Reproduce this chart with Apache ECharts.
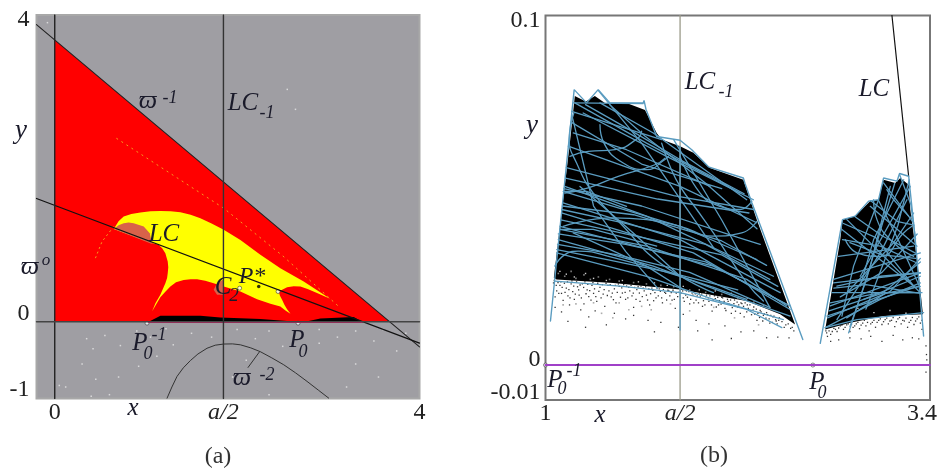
<!DOCTYPE html>
<html><head><meta charset="utf-8">
<style>html,body{margin:0;padding:0;background:#fff}#c{width:940px;height:468px}</style>
<script src="https://cdn.jsdelivr.net/npm/echarts@6/dist/echarts.min.js"></script>
</head><body><div id="c"></div>
<script>
// ---------- panel (a) data ----------
const aHalfA = 1.85, aHalfB = 1.84;
const xTicksA = [0, aHalfA, 4], xLabelsA = ['0', '{i|a/2}', '4'];
const yTicksA = [-1, 0, 4], yLabelsA = ['{u9|-1}', '{u8|0}', '{d5|4}'];
const xTicksB = [1, aHalfB, 3.4], xLabelsB = ['1', '{i|a/2}', '{r|3.4}'];
const yTicksB = [-0.01, 0, 0.1], yLabelsB = ['{u7|-0.01}', '{u5|0}', '{d5|0.1}'];

const redTriangle = [[0,3.674],[3.673,0],[0,0]];
const yellowRegion = [[.647,1.21],[.7,1.31],[.756,1.372],[.84,1.405],[.939,1.425],[1.05,1.44],[1.158,1.446],[1.27,1.442],[1.378,1.429],[1.49,1.395],[1.597,1.351],[1.72,1.28],[1.853,1.199],[2.036,1.068],[2.255,.873],[2.474,.699],[2.73,.526],[3.02,.3],[2.876,.374],[2.78,.425],[2.694,.46],[2.62,.465],[2.548,.452],[2.456,.395],[2.47,.34],[2.493,.287],[2.52,.22],[2.548,.165],[2.585,.104],[2.53,.148],[2.474,.2],[2.365,.235],[2.219,.295],[2.036,.395],[1.853,.46],[1.743,.504],[1.65,.535],[1.561,.556],[1.49,.556],[1.414,.545],[1.33,.515],[1.268,.46],[1.21,.39],[1.158,.321],[1.067,.135],[1.104,.243],[1.158,.352],[1.213,.504],[1.232,.57],[1.239,.634],[1.245,.71],[1.239,.786],[1.213,.895],[1.18,.955],[1.14,1.003],[1.049,1.03]];
const patchLC = [[.647,1.21],[.7,1.26],[.756,1.286],[.81,1.295],[.866,1.286],[.976,1.242],[1.042,1.155],[1.067,1.015]];
const patchC2 = [[1.846,.547],[1.78,.504],[1.743,.417],[1.78,.352],[1.846,.352]];
const blackStrip = [[1.031,0],[1.159,.078],[1.597,.078],[1.816,.056],[2.255,.035],[2.547,.009],[2.785,.009],[2.913,.043],[3.278,.061],[3.37,0]];
const pinkSeg = [[1.03,-.004],[3.37,-.004]];
const orangeTail = [[.446,.83],[.519,1.047],[.647,1.242]];
const orangeCurve = [[.676,2.393],[1.853,1.481],[2.5,.86],[3.114,.2]];
const omegaM1 = [[-.2,3.874],[4,-.326]];
const omega0 = [[-.2,1.608],[4,-.278]];
const omegaM2 = [[1.232,-.995],[1.285,-.85],[1.341,-.712],[1.41,-.6],[1.488,-.505],[1.57,-.42],[1.67,-.345],[1.76,-.305],[1.853,-.29],[1.95,-.288],[2.036,-.3],[2.15,-.34],[2.255,-.39],[2.38,-.47],[2.511,-.56],[2.64,-.665],[2.767,-.777],[2.89,-.89],[3.004,-.995]];
const arrowA = [[2.12,-.595],[2.248,-.387]];
const xZeroA = [[0,-1],[0,4]];
const yZeroA = [[-.2,0],[4,0]];
const lcM1A = [[aHalfA,-1],[aHalfA,4]];
const openPtsA = [[2.668,-.017],[1.012,-.017],[2.028,.439],[2.449,.395]];
const pStar = [[2.237,.46]];
const whiteDotsA = [[-.08,3.9],[2.55,3.03],[2.64,2.77],[.35,-.22],[.42,-.35],[.55,-.18],[.72,-.31],[.9,-.12],[1.05,-.2],[1.22,-.09],[.3,-.55],[.12,-.85],[.05,-.83],[.4,-.97],[.6,-.95],[.45,-.75],[.7,-.72],[.92,-.58],[1.3,-.3],[1.12,-.45],[1.5,-.15],[1.72,-.2],[2,-.1],[2.2,-.22],[2.35,-.12],[2.5,-.32],[2.9,-.1],[3.1,-.2],[3.3,-.12],[3.5,-.25],[3.75,-.38],[3.6,-.1],[2.9,-.28],[2.1,-.5],[1.95,-.72],[2.35,-.95],[3.3,-.55],[3.55,-.72],[3.85,-.15],[3.2,-.85]];

// ---------- panel (b) data ----------
const blackLeft = [[1.183,.077],[1.252,.0754],[1.308,.077],[1.371,.075],[1.506,.075],[1.621,.073],[1.694,.0664],[1.725,.0645],[1.84,.0626],[1.923,.0607],[2.027,.0564],[2.235,.053],[2.319,.0416],[2.558,.0116],[2.465,.0145],[2.256,.0183],[1.84,.0216],[1.423,.0235],[1.069,.0245],[1.052,.025],[1.1,.0435],[1.152,.0635]];
const blackRight = [[3.11,.053],[3.183,.0521],[3.215,.0535],[3.267,.0516],[3.277,.0445],[3.319,.0302],[3.356,.0145],[3.11,.014],[2.902,.0121],[2.746,.0102],[2.788,.0216],[2.84,.0359],[2.854,.0416],[2.933,.0426],[3.027,.0469],[3.079,.0473]];
const purpleLine = [[1,0],[3.4,0]];
const lcM1B = [[aHalfB,-.01],[aHalfB,.1]];
const lcB = [[3.1625,.1],[3.2667,.054]];
const openPtsB = [[1,0],[2.669,0]];
const envLeft = [[1.031,.0126],[1.179,.0788],[1.256,.075],[1.329,.0788],[1.402,.075],[1.61,.075],[1.615,.0757],[1.627,.0732],[1.694,.0654],[1.84,.0643],[1.913,.0616],[2.017,.0567],[2.235,.0535],[2.245,.052],[2.288,.0464],[2.606,.0073]];
const envRight = [[2.715,.0062],[2.854,.0416],[2.933,.0426],[3.017,.0469],[3.079,.0473],[3.11,.0535],[3.194,.0526],[3.21,.0548],[3.267,.054],[3.308,.0359],[3.36,.0083]];
const blueStraight = [
 [[1.173,.075],[1.61,.0748]],
 [[1.183,.075],[1.631,.0635],[2.215,.0492]],
 [[1.34,.075],[1.673,.0664],[2.256,.0473]],
 [[1.235,.0721],[1.756,.0597],[2.298,.0473]],
 [[1.163,.0726],[1.725,.0645]],
 [[1.173,.0664],[1.506,.0616],[2.027,.0511]],
 [[1.142,.0626],[1.84,.0511],[2.319,.0407]],
 [[1.121,.0511],[1.631,.0426],[2.423,.0254]],
 [[1.11,.0464],[1.84,.0359],[2.465,.0207]],
 [[1.1,.0435],[1.923,.0321],[2.527,.0159]],
 [[1.09,.0397],[2.048,.0283],[2.527,.0169]],
 [[1.09,.0388],[1.631,.034],[2.256,.0245],[2.506,.0169]],
 [[1.079,.0359],[1.673,.0283],[2.173,.0197],[2.527,.014]],
 [[1.069,.0321],[1.631,.0254],[2.048,.0188],[2.485,.013]],
 [[1.058,.024],[1.465,.0226],[1.84,.0207],[2.256,.0159],[2.475,.0107]],
 [[1.11,.0497],[1.84,.0397],[2.319,.0302]],
 [[1.215,.0511],[1.548,.0378],[1.84,.0254]],
 [[1.173,.0378],[1.631,.0283],[1.86,.0216]],
 [[1.09,.0388],[1.298,.0388],[1.694,.034]],
 [[1.121,.0497],[1.256,.0497],[1.506,.0454]],
 [[1.08,.0375],[1.5,.0345],[2,.0295],[2.5,.0175]],
 [[1.075,.0345],[1.45,.0315],[1.9,.0265],[2.4,.0165]],
 [[1.07,.033],[1.4,.03],[1.8,.0262],[2.2,.0215]],
 [[1.095,.0415],[1.6,.0365],[2.1,.0315],[2.45,.0225]],
 [[1.1,.0445],[1.5,.0405],[2,.0345],[2.4,.0245]],
 [[1.105,.0455],[1.55,.043],[2.1,.0355],[2.38,.0285]],
 [[1.115,.0505],[1.6,.0455],[2.2,.0365],[2.34,.0345]],
 [[1.125,.0535],[1.7,.0475],[2.27,.0435]],
 [[1.13,.0565],[1.8,.0485],[2.3,.0445]],
 [[1.16,.0695],[1.6,.0575],[2.1,.0505]],
 [[1.25,.0745],[1.5,.068],[1.85,.0585],[2.24,.049]],
 [[1.4,.0745],[1.62,.0655],[2,.052],[2.32,.039]],
 [[1.33,.0785],[1.6,.0635],[1.9,.0435],[2.05,.0335]],
 [[1.17,.0705],[1.3,.0455],[1.5,.0325],[1.7,.022]],
 [[1.8,.0645],[2.1,.0415],[2.4,.0165]],
 [[aHalfB,.0626],[aHalfB,.01]],
 [[2.85,.0388],[3.298,.0226]],
 [[2.881,.0416],[3.34,.0207]],
 [[3.027,.0454],[3.319,.034]],
 [[3.11,.0521],[3.298,.0407]],
 [[2.798,.0245],[3.34,.0321]],
 [[2.777,.0169],[3.34,.0264]],
 [[2.756,.014],[3.329,.0226]],
 [[2.746,.0107],[3.09,.0188],[3.34,.0235]],
 [[2.788,.0207],[3.34,.0207]],
 [[2.798,.0235],[3.34,.0264]],
 [[2.829,.0311],[3.298,.034]],
 [[2.854,.0359],[3.09,.034],[3.319,.0292]],
 [[2.892,.0092],[3.027,.0283],[3.152,.0511]],
 [[2.965,.0254],[3.277,.0511]],
 [[2.819,.013],[3.09,.0321],[3.256,.0473]],
 [[2.881,.0207],[3.173,.035],[3.298,.0435]],
 [[2.746,.0107],[2.944,.013],[3.36,.015]],
 [[2.777,.0178],[3.09,.0207],[3.35,.0207]],
 [[2.819,.0226],[3.09,.0254],[3.34,.0264]],
 [[3.079,.0473],[2.923,.0283],[2.85,.014]],
 [[3.236,.053],[3.048,.0359],[2.965,.0226]],
 [[2.985,.0188],[3.34,.0254]],
 [[2.8,.022],[3,.023],[3.34,.0205]],
 [[2.77,.0155],[3.1,.0205],[3.34,.0295]],
 [[2.76,.0135],[3.15,.021],[3.34,.0305]],
 [[2.84,.0195],[3.1,.0265],[3.32,.0375]],
 [[2.88,.0135],[3.12,.0205],[3.34,.0225]],
 [[2.9,.035],[3.1,.0315],[3.31,.0305]],
 [[2.86,.0405],[3.06,.0365],[3.3,.0225]],
 [[2.93,.0425],[3.1,.037],[3.31,.032]],
 [[3.03,.047],[3.2,.041],[3.3,.04]],
 [[3.08,.047],[3.2,.036],[3.33,.023]],
 [[3.18,.052],[3.1,.04],[3,.024],[2.9,.011]],
 [[3.27,.053],[3.2,.04],[3.1,.028],[3,.016]],
 [[3.21,.0545],[3.28,.046],[3.31,.036]]
];
const blueArcs = [
 [[1.177,.0721],[1.148,.0645],[1.194,.0578],[1.298,.0492],[1.485,.0397],[1.715,.0292],[2.048,.0207]],
 [[1.34,.0688],[1.365,.0635],[1.485,.0578],[1.631,.0559],[1.746,.0588],[1.767,.0597]],
 [[1.121,.0492],[1.267,.0507],[1.454,.054],[1.683,.0573],[1.746,.0592]],
 [[1.152,.0597],[1.267,.0611],[1.433,.0616],[1.579,.065],[1.6,.0669]],
 [[1.725,.0635],[1.777,.0569],[1.84,.0511],[1.944,.0445],[2.048,.0378],[2.256,.0235],[2.36,.0183]],
 [[1.84,.0597],[1.965,.0492],[2.09,.0454],[2.215,.0445],[2.288,.0469]],
 [[2.319,.0411],[2.225,.0378],[2.048,.0369],[1.84,.0397],[1.631,.0416],[1.423,.0421],[1.11,.0397]],
 [[1.058,.0283],[1.121,.0316],[1.204,.0326],[1.423,.0307],[1.84,.0254],[2.256,.0188]],
 [[2.871,.0359],[2.944,.0321],[3.09,.0311],[3.235,.0378],[3.287,.0397]],
 [[3.048,.0473],[3.069,.0416],[3.173,.035],[3.298,.0311]],
 [[3.131,.0502],[3.173,.0473],[3.267,.0426]]
];
const blackDots = [[1.05,.0235],[1.07,.0212],[1.06,.0195],[1.09,.0228],[1.1,.0205],[1.11,.0185],[1.13,.022],[1.14,.0198],[1.16,.0232],[1.17,.021],[1.18,.0188],[1.2,.0224],[1.21,.02],[1.23,.0232],[1.24,.0175],[1.26,.0215],[1.27,.0196],[1.29,.0228],[1.3,.0205],[1.32,.0182],[1.34,.0222],[1.36,.0203],[1.37,.0168],[1.39,.0228],[1.41,.0195],[1.43,.0218],[1.44,.0178],[1.46,.0225],[1.48,.0206],[1.5,.0188],[1.52,.0222],[1.54,.0198],[1.55,.0165],[1.57,.0216],[1.59,.0182],[1.61,.022],[1.63,.02],[1.65,.0172],[1.67,.0214],[1.69,.0192],[1.71,.0218],[1.73,.0178],[1.75,.0205],[1.77,.0212],[1.79,.0186],[1.81,.0162],[1.83,.0208],[1.86,.0192],[1.88,.0212],[1.9,.0175],[1.92,.02],[1.94,.0186],[1.96,.0206],[1.98,.0168],[2,.0196],[2.02,.0182],[2.04,.0154],[2.06,.019],[2.08,.0172],[2.1,.0194],[2.12,.0162],[2.14,.0182],[2.16,.0148],[2.18,.0186],[2.2,.0166],[2.22,.0178],[2.24,.0138],[2.26,.0172],[2.28,.0154],[2.3,.0166],[2.32,.0128],[2.34,.0156],[2.36,.0142],[2.38,.015],[2.4,.012],[2.42,.0138],[2.44,.0126],[2.46,.0135],[2.5,.0115],[2.53,.0105],[2.55,.0098],
 [1.06,.0165],[1.1,.0152],[1.14,.0125],[1.15,.0172],[1.22,.0158],[1.27,.0138],[1.31,.0155],[1.43,.0148],[1.5,.0132],[1.55,.0142],[1.64,.0128],[1.72,.0122],[1.83,.0108],[1.86,.0145],[1.94,.0128],[2.02,.0118],[2.12,.0112],[2.22,.0095],[2.3,.0098],[2.38,.0078],[2.45,.008],[2.52,.0078],[2.16,.0076],[2.04,.0072],[1.95,.0098],[1.68,.0095],[1.38,.0115],[1.25,.0108],
 [1.055,.0242],[1.067,.0228],[1.078,.0236],[1.083,.0205],[1.096,.0238],[1.104,.0222],[1.118,.0234],[1.122,.0208],[1.137,.0238],[1.146,.0216],[1.153,.0192],[1.165,.0241],[1.176,.0226],[1.186,.0203],[1.194,.0238],[1.207,.0215],[1.216,.0229],[1.224,.0192],[1.238,.0222],[1.246,.0238],[1.253,.0204],[1.264,.0231],[1.276,.0213],[1.284,.0186],[1.296,.0236],[1.306,.0218],[1.314,.0196],[1.326,.0234],[1.333,.0211],[1.347,.0192],[1.355,.023],[1.366,.0216],[1.378,.0234],[1.386,.0199],[1.396,.0212],[1.404,.023],[1.417,.0206],[1.424,.0187],[1.436,.0228],[1.448,.0208],[1.455,.0232],[1.468,.0194],[1.476,.0221],[1.488,.023],[1.497,.0208],[1.506,.0226],[1.514,.0192],[1.526,.0212],[1.534,.0228],[1.548,.0206],[1.556,.0222],[1.565,.0188],[1.578,.0224],[1.586,.0206],[1.596,.0226],[1.604,.0196],[1.616,.0212],[1.625,.0224],[1.637,.0186],[1.645,.0218],[1.656,.0204],[1.664,.022],[1.675,.0184],[1.683,.0207],[1.696,.022],[1.704,.0198],[1.717,.0211],[1.725,.0192],[1.736,.0216],[1.744,.0208],[1.756,.0186],[1.764,.0214],[1.776,.0198],[1.785,.0207],[1.796,.0214],[1.804,.0188],[1.816,.0206],[1.825,.0196],[1.846,.0206],[1.856,.0212],[1.866,.0182],[1.875,.02],[1.886,.0194],[1.895,.021],[1.906,.0188],[1.915,.0206],[1.926,.0178],[1.935,.0204],[1.947,.0198],[1.955,.0178],[1.966,.0197],[1.975,.0203],[1.986,.0184],[1.995,.0172],[2.005,.02],[2.016,.0192],[2.026,.0198],[2.036,.0172],[2.046,.0186],[2.055,.0198],[2.066,.0166],[2.075,.0194],[2.085,.0184],[2.096,.0174],[2.106,.0192],[2.115,.0182],[2.126,.0156],[2.136,.0188],[2.146,.0174],[2.155,.0186],[2.166,.0164],[2.176,.0176],[2.186,.0154],[2.196,.018],[2.206,.0172],[2.216,.0148],[2.226,.0176],[2.236,.0168],[2.246,.0178],[2.256,.0152],[2.266,.0162],[2.276,.0172],[2.286,.0144],[2.296,.0158],[2.306,.0146],[2.316,.016],[2.326,.0148],[2.336,.0136],[2.346,.0152],[2.356,.0126],[2.366,.0146],[2.376,.0134],[2.386,.0144],[2.396,.0132],[2.406,.0142],[2.416,.0122],[2.426,.014],[2.436,.013],[2.446,.0118],[2.456,.0128],[2.476,.0124],[2.49,.0108],[2.515,.0118],[2.54,.0108],
 [2.75,.0098],[2.76,.0082],[2.78,.0088],[2.8,.0105],[2.82,.0096],[2.84,.0112],[2.86,.0102],[2.88,.0115],[2.9,.0096],[2.92,.0108],[2.94,.0118],[2.96,.0104],[2.98,.012],[3,.0112],[3.02,.0098],[3.04,.0122],[3.06,.0108],[3.08,.0128],[3.1,.0116],[3.12,.013],[3.14,.0118],[3.16,.0128],[3.18,.011],[3.2,.0132],[3.22,.0118],[3.24,.0126],[3.26,.0108],[3.28,.0128],[3.3,.0116],[3.32,.0132],[3.34,.012],[3.35,.0102],
 [2.755,.0092],[2.77,.0098],[2.79,.0096],[2.81,.0102],[2.83,.0106],[2.85,.0114],[2.87,.0108],[2.89,.0118],[2.91,.0116],[2.93,.0112],[2.95,.0122],[2.97,.0114],[2.99,.0128],[3.01,.0122],[3.03,.0118],[3.05,.0128],[3.07,.0122],[3.09,.0132],[3.11,.0124],[3.13,.0134],[3.15,.0126],[3.17,.0136],[3.19,.0124],[3.21,.0136],[3.23,.0128],[3.25,.0134],[3.27,.0122],[3.29,.0136],[3.31,.0126],[3.33,.0138],[3.35,.0128],
 [2.78,.0068],[2.83,.0072],[2.9,.0078],[2.97,.0075],[3.03,.0082],[3.1,.0068],[3.17,.0085],[3.23,.0072],[3.29,.0078],[3.33,.0075],[3.375,.0055],[3.378,.003],[3.38,.0015],[3.375,-.002]];
const greyDots = [[1.08,.0262],[1.12,.0254],[1.16,.0268],[1.19,.0248],[1.24,.0258],[1.28,.0245],[1.33,.0252],[1.4,.0245],[1.46,.024],[1.55,.0236],[1.63,.0232],[1.72,.0228],[1.8,.0224],[1.9,.0215],[2,.0208],[2.1,.0202],[2.2,.0192],[2.3,.018],[2.4,.0164],[1.35,.0148],[1.42,.0135],[1.52,.0158],[1.6,.0168],[1.78,.0175],[2.05,.0165],[1.11,.0172],[1.19,.0175],[1.3,.0178],[1.46,.0178],[1.66,.0158],[1.9,.0155],[2.18,.0135],[2.33,.0115]];
const whiteInBand = [[1.09,.0268],[1.13,.026],[1.18,.0252],[1.25,.0262],[1.3,.0248],[1.38,.0242],[1.48,.0242],[1.58,.0238],[1.68,.0235],[1.76,.0228],[1.86,.0225],[1.96,.0215],[2.06,.0212],[2.16,.0205],[2.26,.0192],[2.36,.0172],[2.85,.0152],[2.95,.0162],[3.05,.015],[3.15,.0156],[3.25,.0148]];

// ---------- text ----------
const labelsA = [
 ['ϖ',148,101,26],['-1',170,98,18],['LC',243,103,25],['-1',267,113,18],['y',21,131,27],
 ['ϖ',30,267,26],['o',46,261,17],['LC',164,234,25],['P*',252,277,24],['C',223,287,25],['2',234,296,19],
 ['P',140,343,25],['0',148,354,18],['-1',159,335,18],['P',297,340,25],['0',303,352,18],
 ['ϖ',242,378,26],['-2',267,375,18],['x',133,408,25]
];
const labelsB = [
 ['LC',700,82,25],['-1',726,92,18],['LC',874,89,25],['y',532,126,27],
 ['P',555,380,25],['0',562,389,18],['-1',574,371,18],['P',817,382,25],['0',822,393,18],['x',600,415,25]
];
const captions = [['(a)',218,457],['(b)',714,456]];

const SERIF = '"Liberation Serif","DejaVu Serif",serif';
const BLUE = '#5a9cc0';
const line = (pts, a, color, w, extra) => Object.assign({
  type:'line', xAxisIndex:a, yAxisIndex:a, data:pts, showSymbol:false, symbol:'none', silent:true,
  lineStyle:{color:color, width:w, cap:'round'}
}, extra||{});
const poly = (pts, a, color) => ({
  type:'custom', xAxisIndex:a, yAxisIndex:a, silent:true, data:pts,
  renderItem:(p,api)=> p.dataIndex===0 ? {type:'polygon',shape:{points:pts.map(q=>api.coord(q))},style:{fill:color}} : null
});
const dots = (pts, a, color, size, extra) => Object.assign({
  type:'scatter', xAxisIndex:a, yAxisIndex:a, data:pts, symbol:'rect', symbolSize:size, silent:true,
  itemStyle:{color:color}
}, extra||{});

const series = [
  poly(redTriangle,0,'#ff0000'), poly(yellowRegion,0,'#ffff00'), poly(patchLC,0,'#d8624a'), poly(patchC2,0,'#d8624a'),
  poly(blackStrip,0,'#000'),
  line(pinkSeg,0,'#d81868',2),
  line(orangeTail,0,'#f5a020',1,{lineStyle:{color:'#f5a020',width:1,type:[2,3]}}),
  line(orangeCurve,0,'#f5a020',1,{lineStyle:{color:'#f5a020',width:1,type:[2,4]}}),
  line(omegaM1,0,'#222',1.1), line(omega0,0,'#111',1.2),
  line(omegaM2,0,'#333',1),
  line(arrowA,0,'#333',1,{symbol:['none','arrow'],symbolSize:7,showSymbol:false}),
  line(xZeroA,0,'#222',1.4), line(yZeroA,0,'#444',1.4), line(lcM1A,0,'#333',1.4),
  dots(whiteDotsA,0,'#e8e8e8',1.5),
  dots(openPtsA,0,'#fff',4,{symbol:'circle',itemStyle:{color:'#fff',borderColor:'#444',borderWidth:.8}}),
  dots(pStar,0,'#000',3.5,{symbol:'circle'}),

  poly(blackLeft,1,'#000'), poly(blackRight,1,'#000'),
  dots(blackDots,1,'#000',1.3), dots(greyDots,1,'#999',1.6), dots(whiteInBand,1,'#fff',1.4),
  line(lcM1B,1,'#9a9a8a',1.3), line(purpleLine,1,'#a040c8',2), line(lcB,1,'#111',1.2),
  line(envLeft,1,BLUE,1.4), line(envRight,1,BLUE,1.4)
];
blueStraight.forEach(l=>series.push(line(l,1,BLUE,1.3)));
blueArcs.forEach(l=>series.push(line(l,1,BLUE,1.3,{smooth:true})));
series.push(dots(openPtsB,1,'#fff',4,{symbol:'circle',itemStyle:{color:'#fff',borderColor:'#444',borderWidth:.8}}));

const tickFont = {fontFamily:SERIF,fontSize:24,color:'#222'};
const xAxis = (min,max,ticks,labels,m) => ({
  type:'value', min, max, axisLine:{show:false}, axisTick:{show:false}, splitLine:{show:false},
  axisLabel:{show:true, customValues:ticks, margin:m, color:'#222', fontFamily:SERIF, fontSize:24,
    formatter:v=>labels[ticks.indexOf(v)],
    rich:{i:Object.assign({fontStyle:'italic'},tickFont), r:Object.assign({padding:[0,16,0,0]},tickFont)}}
});
const yAxis = (min,max,ticks,labels,m) => ({
  type:'value', min, max, axisLine:{show:false}, axisTick:{show:false}, splitLine:{show:false},
  axisLabel:{show:true, customValues:ticks, margin:m, color:'#222', fontFamily:SERIF, fontSize:24,
    verticalAlign:'middle', formatter:v=>labels[ticks.indexOf(v)],
    rich:{
      d5:Object.assign({padding:[10,0,0,0]},tickFont),
      u5:Object.assign({padding:[0,0,10,0]},tickFont),
      u7:Object.assign({padding:[0,0,14,0]},tickFont),
      u8:Object.assign({padding:[0,0,16,0]},tickFont),
      u9:Object.assign({padding:[0,0,18,0]},tickFont)
    }}
});
const graphic = [];
[...labelsA,...labelsB].forEach(t=>graphic.push({type:'text',x:t[1],y:t[2],silent:true,z:50,
  style:{text:t[0],fill:'#1a1a2a',font:`italic ${t[3]}px ${SERIF}`,textAlign:'center',textVerticalAlign:'middle'}}));
captions.forEach(t=>graphic.push({type:'text',x:t[1],y:t[2],silent:true,
  style:{text:t[0],fill:'#333',font:`24px ${SERIF}`,textAlign:'center',textVerticalAlign:'middle'}}));

const chart = echarts.init(document.getElementById('c'),null,{renderer:'canvas'});
chart.setOption({
  animation:false, backgroundColor:'#fff',
  grid:[
    {left:36.5,top:15,width:383,height:383.5,show:true,backgroundColor:'#9f9ea3',borderColor:'#a8a8a8',borderWidth:2,outerBoundsMode:'none'},
    {left:545.5,top:15.5,width:384.5,height:384.5,show:true,backgroundColor:'#fff',borderColor:'#777',borderWidth:2,outerBoundsMode:'none'}
  ],
  xAxis:[xAxis(-.2,4,xTicksA,xLabelsA,2), Object.assign(xAxis(1,3.4,xTicksB,xLabelsB,2),{gridIndex:1})],
  yAxis:[yAxis(-1,4,yTicksA,yLabelsA,7), Object.assign(yAxis(-.01,.1,yTicksB,yLabelsB,5),{gridIndex:1})],
  series, graphic
});
</script></body></html>
